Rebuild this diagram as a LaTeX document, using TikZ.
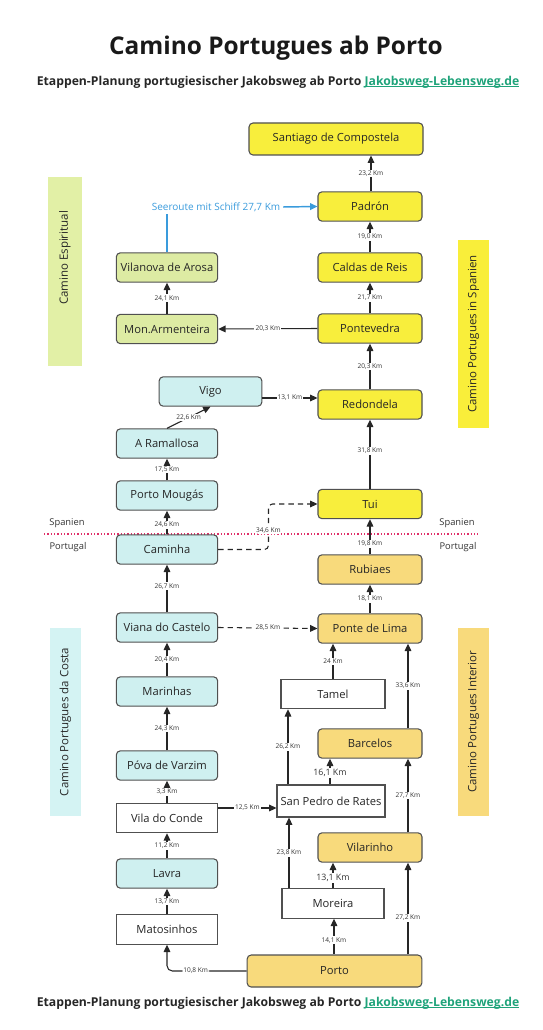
\documentclass[tikz,border=0pt]{standalone}
\usepackage{fontspec}
\setmainfont{Open Sans}
\usetikzlibrary{arrows.meta,calc}
\definecolor{ylw}{HTML}{F8EE3C}
\definecolor{org}{HTML}{F8DA7C}
\definecolor{cyn}{HTML}{CFF0F0}
\definecolor{grn}{HTML}{DDEBA3}
\definecolor{bandgrn}{HTML}{E2F0A6}
\definecolor{bandcyn}{HTML}{D4F3F3}
\definecolor{bandylw}{HTML}{F9EE3A}
\definecolor{bandorg}{HTML}{F8DA7C}
\definecolor{edgec}{HTML}{505050}
\definecolor{lnk}{HTML}{1FA37A}
\definecolor{seac}{HTML}{3A9BDC}
\definecolor{borderc}{HTML}{E0306A}
\newcommand\ulnk[1]{\setbox0\hbox{#1}\rlap{\rule[-1.3pt]{\wd0}{0.6pt}}\box0}
\begin{document}
\begin{tikzpicture}[x=0.75pt,y=-0.75pt,
  box/.style={draw=edgec,line width=0.8pt,minimum height=22pt,inner sep=0pt,font=\fontsize{8.4}{10}\selectfont,text=black!85},
  ybox/.style={box,fill=ylw,rounded corners=3pt},
  obox/.style={box,fill=org,rounded corners=3pt},
  cbox/.style={box,fill=cyn,rounded corners=3pt},
  gbox/.style={box,fill=grn,rounded corners=3pt},
  wbox/.style={box,fill=white},
  rw/.style={minimum width=78pt},
  lw/.style={minimum width=76pt},
  arr/.style={draw=black!85,line width=0.8pt,-{Triangle[length=5.5pt,width=5pt]}},
  darr/.style={arr,dash pattern=on 4pt off 3pt},
  km/.style={fill=white,inner sep=0.8pt,font=\fontsize{4.9}{5.5}\selectfont,text=black!80},
  kmbig/.style={km,font=\fontsize{6.6}{7.5}\selectfont},
  band/.style={inner sep=0pt},
  bandtext/.style={rotate=90,font=\fontsize{8.6}{10}\selectfont,text=black!85,inner sep=0pt},
  ctry/.style={font=\fontsize{7}{8}\selectfont,text=black!80,inner sep=0pt},
  sub/.style={font=\bfseries\fontsize{9.15}{11}\selectfont,text=black!85},
  sealine/.style={draw=seac,line width=1.1pt}
]
\useasboundingbox (0,0) rectangle (542,1030);

% titles
\node[font=\bfseries\fontsize{18.3}{20}\selectfont,text=black!90] (title) at (276,48) {Camino Portugues ab Porto};
\node[sub] (subtop) at (278,82) {Etappen-Planung portugiesischer Jakobsweg ab Porto \textcolor{lnk}{\ulnk{Jakobsweg-Lebensweg.de}}};
\node[sub] (subbot) at (278,1003) {Etappen-Planung portugiesischer Jakobsweg ab Porto \textcolor{lnk}{\ulnk{Jakobsweg-Lebensweg.de}}};

% side bands
\node[band,fill=bandgrn,minimum width=25.5pt,minimum height=141.75pt] (bespi) at (65,271.5) {};
\node[bandtext] (tespi) at (65,258) {Camino Espiritual};
\node[band,fill=bandylw,minimum width=23.25pt,minimum height=141pt] (bspan) at (473.5,334) {};
\node[bandtext] (tspan) at (473.5,334) {Camino Portugues in Spanien};
\node[band,fill=bandcyn,minimum width=23.25pt,minimum height=141pt] (bcosta) at (65.5,722) {};
\node[bandtext] (tcosta) at (65.5,722) {Camino Portugues da Costa};
\node[band,fill=bandorg,minimum width=23.25pt,minimum height=141pt] (binter) at (473.5,722) {};
\node[bandtext] (tinter) at (473.5,722) {Camino Portugues Interior};

% border line
\coordinate (bl) at (44,534);
\coordinate (br) at (478,534);
\draw[borderc,line width=0.9pt,dash pattern=on 0.9pt off 1.6pt] (bl) -- (br);
\node[ctry] (spl) at (67,523) {Spanien};
\node[ctry] (ptl) at (68,547) {Portugal};
\node[ctry] (spr) at (457,523) {Spanien};
\node[ctry] (ptr) at (458,547) {Portugal};

% right column
\node[ybox,minimum width=130.5pt,minimum height=24pt] (sant) at (336,139) {Santiago de Compostela};
\node[ybox,rw] (padron) at (370,206.5) {Padrón};
\node[ybox,rw] (caldas) at (370,267.5) {Caldas de Reis};
\node[ybox,rw] (ponte) at (370,328.5) {Pontevedra};
\node[ybox,rw] (redon) at (370,404.5) {Redondela};
\node[ybox,rw] (tui) at (370,504) {Tui};
\node[obox,rw] (rubiaes) at (370,569.5) {Rubiaes};
\node[obox,rw] (lima) at (370,628.5) {Ponte de Lima};
\node[wbox,minimum width=78pt] (tamel) at (333,694) {Tamel};
\node[obox,rw] (barcelos) at (370,743.5) {Barcelos};
\node[wbox,minimum width=81pt,minimum height=24pt] (rates) at (331,801) {San Pedro de Rates};
\node[obox,rw] (vilarinho) at (370,847.5) {Vilarinho};
\node[wbox,minimum width=76.5pt] (moreira) at (333,903.5) {Moreira};
\node[obox,minimum width=131pt,minimum height=24pt] (porto) at (334.5,971) {Porto};

% left column
\node[gbox,lw] (vilanova) at (167,267.5) {Vilanova de Arosa};
\node[gbox,lw] (armen) at (167,329) {Mon.Armenteira};
\node[cbox,minimum width=77pt] (vigo) at (210.5,391.5) {Vigo};
\node[cbox,lw] (ramal) at (167,443.5) {A Ramallosa};
\node[cbox,lw] (mougas) at (167,495.5) {Porto Mougás};
\node[cbox,lw] (caminha) at (167,549.5) {Caminha};
\node[cbox,lw] (viana) at (167,627.5) {Viana do Castelo};
\node[cbox,lw] (marinhas) at (167,691.5) {Marinhas};
\node[cbox,lw] (povoa) at (167,765.5) {Póva de Varzim};
\node[wbox,lw] (conde) at (167,818) {Vila do Conde};
\node[cbox,lw] (lavra) at (167,873.5) {Lavra};
\node[wbox,lw] (mato) at (167,929.5) {Matosinhos};

% sea route
\node[text=seac,font=\fontsize{7.5}{9}\selectfont,inner sep=2pt] (seatext) at (216,207) {Seeroute mit Schiff 27,7 Km};
\draw[sealine] (vilanova.north) -- (vilanova.north |- seatext.south);
\draw[sealine,-{Triangle[length=5.5pt,width=5pt]}] (seatext.east) -- (padron.west);

% connectors
\draw[arr] (padron.north -| 371,0) -- node[km]{23,2 Km} (sant.south -| 371,0);
\draw[arr] (caldas.north) -- node[km]{19,0 Km} (padron.south);
\draw[arr] (ponte.north) -- node[km]{21,7 Km} (caldas.south);
\draw[arr] (redon.north) -- node[km]{20,3 Km} (ponte.south);
\draw[arr] (tui.north) -- node[km,pos=0.55]{31,8 Km} (redon.south);
\draw[arr] (rubiaes.north) -- node[km,pos=0.3]{19,8 Km} (tui.south);
\draw[arr] (lima.north) -- node[km]{18,1 Km} (rubiaes.south);
\draw[arr] (ponte.west) -- node[km]{20,3 Km} (armen.east);
\draw[arr] (armen.north) -- node[km]{24,1 Km} (vilanova.south);
\draw[arr] (vigo.east |- 0,398) -- node[km]{13,1 Km} (redon.west |- 0,398);
\draw[arr] (ramal.north) -- node[km]{22,6 Km} (vigo.south);
\draw[arr] (mougas.north) -- node[km]{17,5 Km} (ramal.south);
\draw[arr] (caminha.north) -- node[km,pos=0.4]{24,6 Km} (mougas.south);
\draw[darr,rounded corners=3pt] (caminha.east) -| node[km,pos=0.71]{34,6 Km} ([xshift=-36.75pt]tui.west) -- (tui.west);
\draw[arr] (viana.north) -- node[km,pos=0.55]{26,7 Km} (caminha.south);
\draw[darr] (viana.east) -- node[km]{28,5 Km} (lima.west);
\draw[arr] (marinhas.north) -- node[km]{20,4 Km} (viana.south);
\draw[arr] (povoa.north) -- node[km]{24,3 Km} (marinhas.south);
\draw[arr] (conde.north) -- node[km]{3,3 Km} (povoa.south);
\draw[arr] (lavra.north) -- node[km]{11,2 Km} (conde.south);
\draw[arr] (mato.north) -- node[km]{13,7 Km} (lavra.south);
\draw[arr] (conde.east |- 0,808) -- node[km]{12,5 Km} (rates.west |- 0,808);
\draw[arr,rounded corners=4pt] (porto.west) -- node[km,pos=0.64]{10,8 Km} (porto.west -| mato.south) -- (mato.south);

\draw[arr] (tamel.north) -- node[km]{24 Km} (tamel.north |- lima.south);
\draw[arr] (rates.north -| 288,0) -- node[km]{26,2 Km} (tamel.south -| 288,0);
\draw[arr] (rates.north -| 330,0) -- node[kmbig,pos=0.45]{16,1 Km} (barcelos.south -| 330,0);
\draw[arr] (barcelos.north -| 408,0) -- node[km]{33,6 Km} (lima.south -| 408,0);
\draw[arr] (vilarinho.north -| 408,0) -- node[km]{27,7 Km} (barcelos.south -| 408,0);
\draw[arr] (moreira.north -| 289,0) -- node[km]{23,8 Km} (rates.south -| 289,0);
\draw[arr] (moreira.north) -- node[kmbig,pos=0.4]{13,1 Km} (moreira.north |- vilarinho.south);
\draw[arr] (porto.north -| 334,0) -- node[km,pos=0.4]{14,1 Km} (moreira.south -| 334,0);
\draw[arr] (porto.north -| 408,0) -- node[km,pos=0.4]{27,2 Km} (vilarinho.south -| 408,0);
\end{tikzpicture}
\end{document}
